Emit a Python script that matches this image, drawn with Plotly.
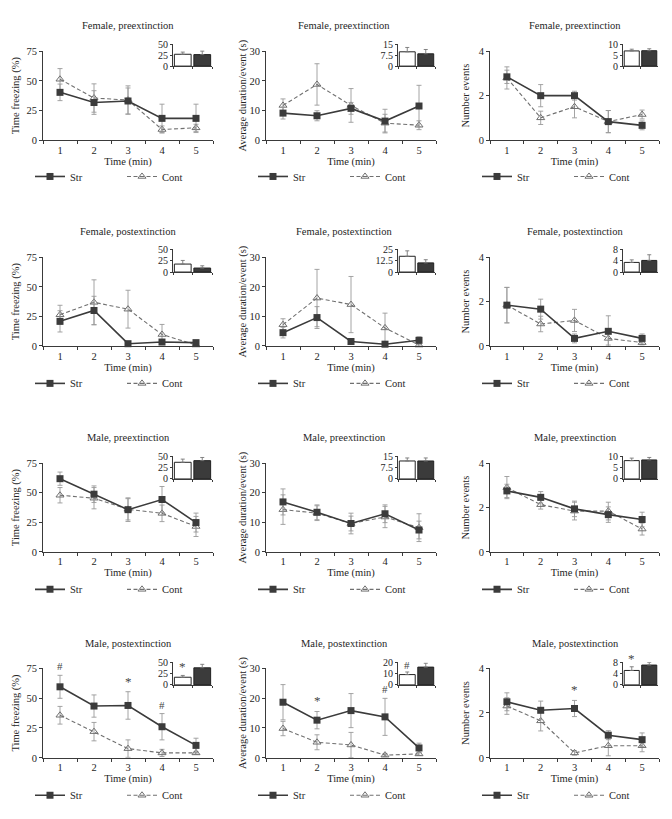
import plotly.graph_objects as go

W, H = 672, 819

GROUPS = ["Female, preextinction", "Female, postextinction",
          "Male, preextinction", "Male, postextinction"]
MEASURES = ["Time freezing (%)", "Average duration/event (s)", "Number events"]
MINUTES = ["1", "2", "3", "4", "5"]
INSET_CATS = ["Cont", "Str"]

# ---- Time freezing (%) per group (rows: GROUPS order), minutes 1-5
STR_FREEZE = [[40.3, 31.7, 33.0, 18.3, 18.3],
              [20.8, 30.0, 1.9, 3.3, 2.8],
              [61.9, 48.8, 35.7, 44.3, 24.8],
              [59.4, 43.3, 43.8, 26.0, 10.4]]
STR_FREEZE_SE = [[7, 10, 11, 12, 12],
                 [9, 12, 1, 1, 1],
                 [5.6, 7, 10, 11, 8],
                 [9.6, 9.3, 11.5, 11, 6]]
CONT_FREEZE = [[51.4, 35.5, 33.8, 8.9, 10.3],
               [26.4, 36.9, 31.1, 9.7, 0.8],
               [47.9, 45.4, 36.0, 32.6, 21.5],
               [35.6, 21.9, 7.7, 4.1, 4.1]]
CONT_FREEZE_SE = [[9, 12, 12, 3, 3],
                  [8, 19, 16, 8.5, 0.5],
                  [6.5, 9, 9, 7, 8.5],
                  [7.4, 7.7, 7.3, 3, 1]]

# ---- Average duration/event (s)
STR_DUR = [[9.1, 8.2, 10.7, 6.4, 11.5],
           [4.5, 9.6, 1.5, 0.6, 1.9],
           [16.9, 13.4, 9.6, 12.9, 7.4],
           [18.6, 12.6, 15.8, 13.7, 3.3]]
STR_DUR_SE = [[2, 1.7, 2, 4, 7],
              [1.8, 3.7, 0.5, 0.3, 1.2],
              [4.4, 2.5, 3.5, 3, 3],
              [5.9, 2.9, 5.7, 6.2, 1.6]]
CONT_DUR = [[11.7, 18.8, 11.7, 5.7, 5.0],
            [7.2, 16.2, 14.0, 6.1, 0.3],
            [14.3, 13.1, 9.6, 11.8, 8.2],
            [9.8, 5.2, 4.3, 0.9, 1.3]]
CONT_DUR_SE = [[2.2, 7, 5.7, 3, 1.5],
               [2, 9.7, 9.5, 5, 0.3],
               [5, 2.5, 2.5, 3.6, 4.7],
               [2.4, 2.5, 4.2, 0.5, 0.5]]

# ---- Number events
STR_EVENTS = [[2.85, 2.0, 2.0, 0.83, 0.66],
              [1.84, 1.66, 0.34, 0.66, 0.34],
              [2.75, 2.46, 1.94, 1.68, 1.46],
              [2.5, 2.12, 2.2, 1.01, 0.81]]
STR_EVENTS_SE = [[0.3, 0.5, 0.2, 0.5, 0.2],
                 [0.8, 0.45, 0.2, 0.7, 0.2],
                 [0.3, 0.26, 0.35, 0.35, 0.33],
                 [0.4, 0.41, 0.36, 0.2, 0.3]]
CONT_EVENTS = [[2.8, 1.0, 1.5, 0.83, 1.15],
               [1.84, 0.99, 1.15, 0.34, 0.15],
               [2.9, 2.13, 1.84, 1.84, 1.03],
               [2.31, 1.65, 0.22, 0.54, 0.54]]
CONT_EVENTS_SE = [[0.5, 0.3, 0.5, 0.5, 0.2],
                  [0.8, 0.35, 0.5, 0.3, 0.1],
                  [0.5, 0.2, 0.4, 0.4, 0.27],
                  [0.37, 0.45, 0.1, 0.45, 0.27]]

# ---- Inset totals [Cont, Str] per group
INSET_FREEZE = [[27.3, 26.5], [17.6, 8.8], [36.8, 40.4], [16.9, 37.7]]
INSET_FREEZE_SE = [[5, 8], [8, 5], [7, 7], [4, 7.7]]
INSET_DUR = [[9.9, 8.5], [17.4, 10.1], [11.9, 11.9], [9.1, 15.7]]
INSET_DUR_SE = [[3, 3], [6, 3.5], [2, 2], [2.3, 3.4]]
INSET_EVENTS = [[7.0, 7.1], [3.4, 4.1], [8.1, 8.4], [5.1, 7.0]]
INSET_EVENTS_SE = [[0.8, 0.9], [0.9, 2.0], [1.1, 1.1], [1.3, 0.9]]

# ---- Tick labels
MAIN_TICKS = [[0, 25, 50, 75], [0, 10, 20, 30], [0, 2, 4]]
INSET_TICKS = [
    [[0, 25, 50], [0, 25, 50], [0, 25, 50], [0, 25, 50]],
    [[0, 7.5, 15], [0, 12.5, 25], [0, 7.5, 15], [0, 10, 20]],
    [[0, 5, 10], [0, 4, 8], [0, 5, 10], [0, 4, 8]],
]

# ---- Significance marks: (group, measure, minute index, symbol)
SIG_MAIN = [(3, 0, 0, "#"), (3, 0, 2, "*"), (3, 0, 3, "#"),
            (3, 1, 1, "*"), (3, 1, 3, "#"), (3, 2, 2, "*")]
SIG_INSET = [(3, 0, "*"), (3, 1, "#"), (3, 2, "*")]

MAIN_STR = [STR_FREEZE, STR_DUR, STR_EVENTS]
MAIN_STR_SE = [STR_FREEZE_SE, STR_DUR_SE, STR_EVENTS_SE]
MAIN_CONT = [CONT_FREEZE, CONT_DUR, CONT_EVENTS]
MAIN_CONT_SE = [CONT_FREEZE_SE, CONT_DUR_SE, CONT_EVENTS_SE]
INSET_VALS = [INSET_FREEZE, INSET_DUR, INSET_EVENTS]
INSET_SES = [INSET_FREEZE_SE, INSET_DUR_SE, INSET_EVENTS_SE]

# ---- geometry (pixels)
COL_X = [(43, 213), (266, 436), (490, 659)]
ROW_Y = [(46, 136), (255, 345), (464, 554), (672, 763)]
INSET_X = [(173, 212), (398, 435), (623, 658)]
INSET_Y = [(39, 61), (247, 270), (457, 480), (666, 689)]
TITLE_X = [128, 344, 575]
TITLE_Y = [20, 229, 438, 647]
LEGEND_Y = [173, 383, 592, 801]
YTITLE_STANDOFF = [4, 0, 6]

FONT = "Liberation Serif"
TXT = "#262626"
AX = "#3a3a3a"
STR_C = "#3b3b3b"
CONT_C = "#707070"
ERR_C = "#9a9a9a"


def px_x(x):
    return x / W


def px_y(y):
    return 1 - y / H


def sfx(n):
    return "" if n == 1 else str(n)


fig = go.Figure()
layout = dict(
    width=W, height=H,
    margin=dict(l=0, r=0, t=0, b=0),
    paper_bgcolor="white", plot_bgcolor="white",
    font=dict(family=FONT, size=10.5, color=TXT),
    showlegend=True,
)
annotations = []

for r in range(4):
    for c in range(3):
        k = r * 3 + c
        m = 2 * k + 1
        i = 2 * k + 2
        leg = "legend" if k == 0 else f"legend{k + 1}"
        ticks = MAIN_TICKS[c]

        # main traces (Cont drawn first, Str on top)
        fig.add_trace(go.Scatter(
            x=MINUTES, y=MAIN_CONT[c][r], name="Cont", mode="lines+markers",
            line=dict(color=CONT_C, width=1.1, dash="4px,2.5px"),
            marker=dict(symbol="triangle-up-open", size=7, color=CONT_C,
                        line=dict(width=1, color=CONT_C)),
            error_y=dict(type="data", array=MAIN_CONT_SE[c][r], color=ERR_C,
                         thickness=0.9, width=2.5),
            xaxis="x" + sfx(m), yaxis="y" + sfx(m), legend=leg, legendrank=2,
            cliponaxis=False,
        ))
        fig.add_trace(go.Scatter(
            x=MINUTES, y=MAIN_STR[c][r], name="Str", mode="lines+markers",
            line=dict(color=STR_C, width=1.6),
            marker=dict(symbol="square", size=7, color=STR_C),
            error_y=dict(type="data", array=MAIN_STR_SE[c][r], color=ERR_C,
                         thickness=0.9, width=2.5),
            xaxis="x" + sfx(m), yaxis="y" + sfx(m), legend=leg, legendrank=1,
            cliponaxis=False,
        ))

        # inset bars
        vals = INSET_VALS[c][r]
        ses = INSET_SES[c][r]
        for j, (cat, fill) in enumerate(zip(INSET_CATS, ["white", STR_C])):
            fig.add_trace(go.Bar(
                x=[cat], y=[vals[j]], width=0.86,
                marker=dict(color=fill, line=dict(color="#222", width=1)),
                error_y=dict(type="data", symmetric=False, array=[ses[j]],
                             arrayminus=[0], color="#777", thickness=0.9, width=2),
                xaxis="x" + sfx(i), yaxis="y" + sfx(i), showlegend=False,
            ))

        x0, x1 = COL_X[c]
        y0, y1 = ROW_Y[r]
        layout["xaxis" + sfx(m)] = dict(
            domain=[px_x(x0), px_x(x1)], anchor="y" + sfx(m),
            type="category", categoryorder="array", categoryarray=MINUTES,
            range=[-0.5, 4.5], tickson="boundaries",
            showline=True, linecolor=AX, linewidth=1,
            ticks="outside", ticklen=3, tickcolor=AX, tickwidth=1,
            showgrid=False, zeroline=False,
            tickfont=dict(size=10.5, family=FONT, color=TXT),
            title=dict(text="Time (min)", standoff=2,
                       font=dict(size=10.5, family=FONT, color=TXT)),
        )
        layout["yaxis" + sfx(m)] = dict(
            domain=[px_y(y1), px_y(y0)], anchor="x" + sfx(m),
            range=[0, ticks[-1]], tickvals=ticks,
            showline=True, linecolor=AX, linewidth=1,
            ticks="outside", ticklen=3, tickcolor=AX, tickwidth=1,
            showgrid=False, zeroline=False,
            tickfont=dict(size=10.5, family=FONT, color=TXT),
            title=dict(text=MEASURES[c], standoff=YTITLE_STANDOFF[c],
                       font=dict(size=10.5, family=FONT, color=TXT)),
        )

        ix0, ix1 = INSET_X[c]
        iy0, iy1 = INSET_Y[r]
        iticks = INSET_TICKS[c][r]
        layout["xaxis" + sfx(i)] = dict(
            domain=[px_x(ix0), px_x(ix1)], anchor="y" + sfx(i),
            type="category", categoryorder="array", categoryarray=INSET_CATS,
            range=[-0.5, 1.5], showticklabels=False,
            tickson="boundaries", ticks="outside", ticklen=2, tickcolor=AX,
            showline=True, linecolor=AX, linewidth=1,
            showgrid=False, zeroline=False,
        )
        layout["yaxis" + sfx(i)] = dict(
            domain=[px_y(iy1), px_y(iy0)], anchor="x" + sfx(i),
            range=[0, iticks[-1]], tickvals=iticks,
            showline=True, linecolor=AX, linewidth=1,
            ticks="outside", ticklen=2, tickcolor=AX,
            showgrid=False, zeroline=False,
            tickfont=dict(size=10, family=FONT, color=TXT),
        )

        layout[leg] = dict(
            orientation="h", x=px_x(x0 - 13), xanchor="left",
            y=px_y(LEGEND_Y[r]), yanchor="middle",
            entrywidth=47, entrywidthmode="pixels",
            font=dict(size=10.5, family=FONT, color=TXT),
            bgcolor="rgba(0,0,0,0)", itemclick=False,
        )

        annotations.append(dict(
            text=GROUPS[r], xref="paper", yref="paper",
            x=px_x(TITLE_X[c]), y=px_y(TITLE_Y[r]),
            xanchor="center", yanchor="middle", showarrow=False,
            font=dict(size=10.5, family=FONT, color=TXT),
        ))

for g, ms, t, sym in SIG_MAIN:
    k = g * 3 + ms
    m = 2 * k + 1
    top = MAIN_STR[ms][g][t] + MAIN_STR_SE[ms][g][t]
    annotations.append(dict(
        text=sym, xref="x" + sfx(m), yref="y" + sfx(m), x=t, y=top,
        yanchor="bottom", yshift=1, showarrow=False,
        font=dict(size=13 if sym == "*" else 11, family=FONT, color="#444"),
    ))

for g, ms, sym in SIG_INSET:
    k = g * 3 + ms
    i = 2 * k + 2
    top = INSET_VALS[ms][g][0] + INSET_SES[ms][g][0]
    annotations.append(dict(
        text=sym, xref="x" + sfx(i), yref="y" + sfx(i), x=0, y=top,
        yanchor="bottom", yshift=-1, showarrow=False,
        font=dict(size=13 if sym == "*" else 11, family=FONT, color="#444"),
    ))

layout["annotations"] = annotations
fig.update_layout(**layout)
fig.write_html("out.html", config={"displayModeBar": False},
               post_script="document.body.style.margin='0px';document.body.style.padding='0px';")
